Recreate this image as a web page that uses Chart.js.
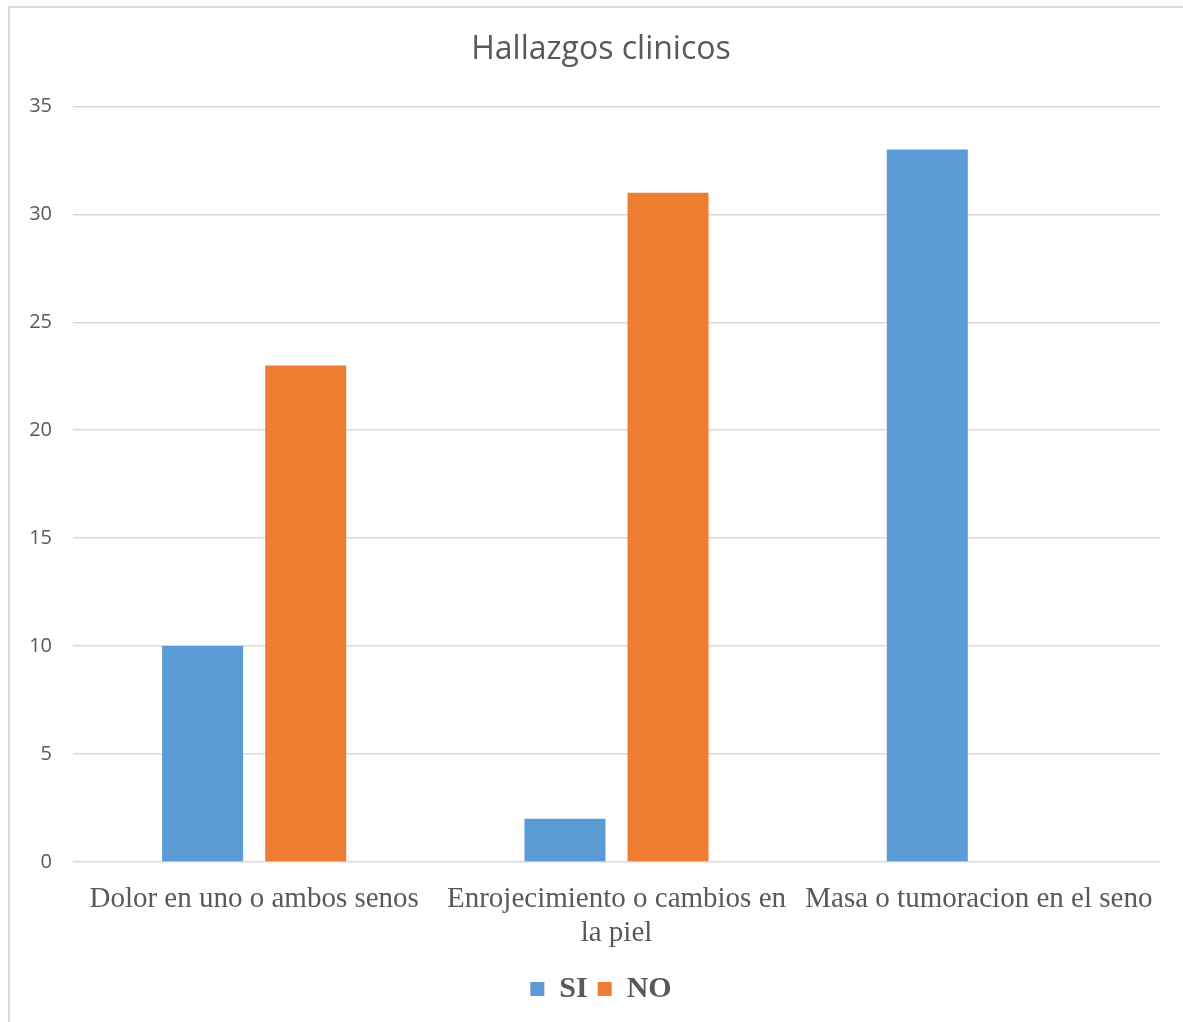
<!DOCTYPE html>
<html>
<head>
<meta charset="utf-8">
<script src="https://cdn.jsdelivr.net/npm/chart.js@4.4.1/dist/chart.umd.min.js"></script>
<style>
  html, body { margin: 0; padding: 0; background: #fff; overflow: hidden; }
  #frame {
    position: absolute; left: 8px; top: 6px;
    width: 1300px; height: 1100px;
    border-top: 2px solid #d9d9d9;
    border-left: 2px solid #d9d9d9;
    background: #fff;
  }
  #chart { display: block; }
</style>
</head>
<body>
<div id="frame"><canvas id="chart" width="1182" height="1014"></canvas></div>
<script>
const categories = [
  ['Dolor en uno o ambos senos'],
  ['Enrojecimiento o cambios en', 'la piel'],
  ['Masa o tumoracion en el seno']
];
const siValues = [10, 2, 33];
const noValues = [23, 31, 0];
const yTicks = [0, 5, 10, 15, 20, 25, 30, 35];

const textGray = '#595959';
const gridGray = '#d9d9d9';

new Chart(document.getElementById('chart'), {
  type: 'bar',
  data: {
    labels: categories,
    datasets: [
      { label: 'SI', data: siValues, backgroundColor: '#5b9bd5', categoryPercentage: 0.569, barPercentage: 0.786 },
      { label: 'NO', data: noValues, backgroundColor: '#ed7d31', categoryPercentage: 0.569, barPercentage: 0.786 }
    ]
  },
  options: {
    responsive: false,
    animation: false,
    layout: { padding: { left: 0, right: 0, top: 0, bottom: 8 } },
    plugins: {
      title: {
        display: true,
        text: 'Hallazgos clinicos',
        color: textGray,
        font: { family: 'Open Sans', size: 32, weight: 'normal' },
        padding: { top: 23, bottom: 37 }
      },
      legend: {
        position: 'bottom',
        labels: {
          color: textGray,
          boxWidth: 14,
          boxHeight: 14,
          padding: 10,
          font: { family: 'Liberation Serif', size: 30, weight: 'bold' }
        }
      },
      tooltip: { enabled: false }
    },
    scales: {
      x: {
        grid: { display: false },
        border: { display: false },
        ticks: {
          color: textGray,
          padding: 12,
          maxRotation: 0,
          autoSkip: false,
          font: { family: 'Liberation Serif', size: 29, lineHeight: 1.17 }
        },
        afterFit: scale => { scale.height = 102; }
      },
      y: {
        min: 0,
        max: 35,
        afterBuildTicks: scale => { scale.ticks = yTicks.map(v => ({ value: v })); },
        grid: { color: gridGray, lineWidth: 1.5, drawTicks: false },
        border: { display: false },
        ticks: {
          color: textGray,
          padding: 21,
          font: { family: 'Open Sans', size: 20 }
        },
        afterFit: scale => { scale.width = 63; }
      },
      // empty strip on the right, keeps the plot clear of the frame edge
      yRight: {
        position: 'right',
        grid: { display: false },
        border: { display: false },
        ticks: { display: false },
        afterFit: scale => { scale.width = 32; }
      }
    }
  }
});
</script>
</body>
</html>
